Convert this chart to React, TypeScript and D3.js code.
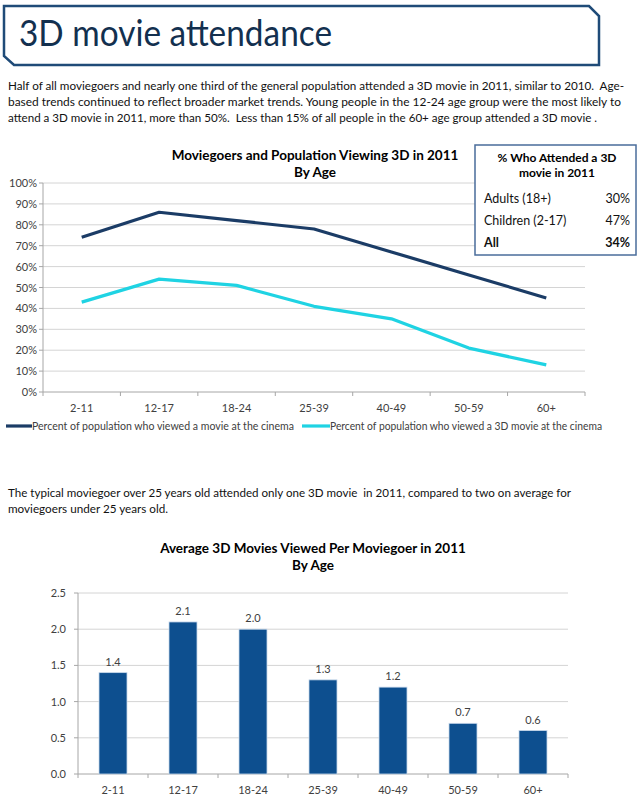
import React from 'react';
import * as d3 from 'd3';

const ages = ['2-11', '12-17', '18-24', '25-39', '40-49', '50-59', '60+'];
const viewedMovie = [74, 86, 82, 78, 67, 56, 45];
const viewed3D = [43, 54, 51, 41, 35, 21, 13];
const avg3D = [1.4, 2.1, 2.0, 1.3, 1.2, 0.7, 0.6];
const pctTicks = [0, 10, 20, 30, 40, 50, 60, 70, 80, 90, 100];
const barTicks = [0, 0.5, 1.0, 1.5, 2.0, 2.5];

const tableRows = [
  { label: 'Adults (18+)', value: '30%', bold: false },
  { label: 'Children (2-17)', value: '47%', bold: false },
  { label: 'All', value: '34%', bold: true },
];

const intro = [
  { text: 'Half of all moviegoers and nearly one third of the general population attended a 3D movie in 2011, similar to 2010.  Age-', w: 616 },
  { text: 'based trends continued to reflect broader market trends. Young people in the 12-24 age group were the most likely to', w: 613 },
  { text: 'attend a 3D movie in 2011, more than 50%.  Less than 15% of all people in the 60+ age group attended a 3D movie .', w: 589 },
];
const second = [
  { text: 'The typical moviegoer over 25 years old attended only one 3D movie  in 2011, compared to two on average for', w: 563 },
  { text: 'moviegoers under 25 years old.', w: 160 },
];

const FONT = 'Lato, "Open Sans", sans-serif';
const NAVY = '#1b3c66';
const CYAN = '#1fd3e3';
const BAR = '#0d4f8f';
const GRID = '#d4d4d4';
const AXIS = '#a6a6a6';
const TXT = '#404040';

function LineChart() {
  const left = 43, right = 585, top = 183, bottom = 392;
  const x = d3.scaleBand<string>().domain(ages).range([left, right]);
  const y = d3.scaleLinear().domain([0, 100]).range([bottom, top]);
  const line = d3.line<number>()
    .x((_, i) => (x(ages[i]) as number) + x.bandwidth() / 2)
    .y(d => y(d));

  return (
    <g fontFamily={FONT}>
      <text x={315} y={160} textAnchor="middle" fontSize={13.5} fontWeight="bold" fill="#000">
        Moviegoers and Population Viewing 3D in 2011
      </text>
      <text x={315} y={177} textAnchor="middle" fontSize={13.5} fontWeight="bold" fill="#000">By Age</text>

      {pctTicks.map(t => (
        <g key={t}>
          {t > 0 && <line x1={left} x2={right} y1={y(t)} y2={y(t)} stroke={GRID} strokeWidth={1} />}
          <line x1={left - 4} x2={left} y1={y(t)} y2={y(t)} stroke={AXIS} />
          <text x={left - 6} y={y(t) + 4} textAnchor="end" fontSize={11} fill={TXT}>{t}%</text>
        </g>
      ))}
      <line x1={left} x2={left} y1={top} y2={bottom} stroke={AXIS} />
      <line x1={left} x2={right} y1={bottom} y2={bottom} stroke={AXIS} />
      {ages.map((a, i) => (
        <g key={a}>
          <line x1={(x(a) as number) + x.bandwidth()} x2={(x(a) as number) + x.bandwidth()} y1={bottom} y2={bottom + 4} stroke={AXIS} />
          {i === 0 && <line x1={left} x2={left} y1={bottom} y2={bottom + 4} stroke={AXIS} />}
          <text x={(x(a) as number) + x.bandwidth() / 2} y={412} textAnchor="middle" fontSize={11} fill={TXT}>{a}</text>
        </g>
      ))}

      <path d={line(viewedMovie) as string} fill="none" stroke={NAVY} strokeWidth={3.2} strokeLinejoin="round" />
      <path d={line(viewed3D) as string} fill="none" stroke={CYAN} strokeWidth={3.2} strokeLinejoin="round" />

      <line x1={6} x2={32} y1={426} y2={426} stroke={NAVY} strokeWidth={3.2} />
      <text x={32} y={430} fontSize={11} fill={TXT} textLength={262} lengthAdjust="spacingAndGlyphs">
        Percent of population who viewed a movie at the cinema
      </text>
      <line x1={302} x2={330} y1={426} y2={426} stroke={CYAN} strokeWidth={3.2} />
      <text x={330} y={430} fontSize={11} fill={TXT} textLength={272} lengthAdjust="spacingAndGlyphs">
        Percent of population who viewed a 3D movie at the cinema
      </text>

      <rect x={475} y={145} width={161} height={110} fill="#fff" stroke="#4a6c9b" strokeWidth={1.5} />
      <text x={557} y={162} textAnchor="middle" fontSize={12} fontWeight="bold" fill="#000">% Who Attended a 3D</text>
      <text x={557} y={177} textAnchor="middle" fontSize={12} fontWeight="bold" fill="#000">movie in 2011</text>
      {tableRows.map((r, i) => (
        <g key={r.label} fontSize={12.5} fontWeight={r.bold ? 'bold' : 'normal'} fill="#111">
          <text x={484} y={203 + i * 22}>{r.label}</text>
          <text x={630} y={203 + i * 22} textAnchor="end">{r.value}</text>
        </g>
      ))}
    </g>
  );
}

function BarChart() {
  const left = 78, right = 568, top = 593, bottom = 774;
  const x = d3.scaleBand<string>().domain(ages).range([left, right]).paddingInner(0.6).paddingOuter(0.3);
  const xs = d3.scaleBand<string>().domain(ages).range([left, right]);
  const y = d3.scaleLinear().domain([0, 2.5]).range([bottom, top]);

  return (
    <g fontFamily={FONT}>
      <text x={313} y={553} textAnchor="middle" fontSize={13.5} fontWeight="bold" fill="#000">
        Average 3D Movies Viewed Per Moviegoer in 2011
      </text>
      <text x={313} y={570} textAnchor="middle" fontSize={13.5} fontWeight="bold" fill="#000">By Age</text>

      {barTicks.map(t => (
        <g key={t}>
          {t > 0 && <line x1={left} x2={right} y1={y(t)} y2={y(t)} stroke={GRID} />}
          <line x1={left - 4} x2={left} y1={y(t)} y2={y(t)} stroke={AXIS} />
          <text x={left - 12} y={y(t) + 4} textAnchor="end" fontSize={11} fill={TXT}>{t.toFixed(1)}</text>
        </g>
      ))}
      <line x1={left} x2={left} y1={top} y2={bottom} stroke={AXIS} />
      <line x1={left} x2={right} y1={bottom} y2={bottom} stroke={AXIS} />
      {ages.map((a, i) => (
        <g key={a}>
          <line x1={(xs(a) as number) + xs.bandwidth()} x2={(xs(a) as number) + xs.bandwidth()} y1={bottom} y2={bottom + 4} stroke={AXIS} />
          {i === 0 && <line x1={left} x2={left} y1={bottom} y2={bottom + 4} stroke={AXIS} />}
          <text x={(xs(a) as number) + xs.bandwidth() / 2} y={794} textAnchor="middle" fontSize={11} fill={TXT}>{a}</text>
          <rect x={x(a)} y={y(avg3D[i])} width={x.bandwidth()} height={bottom - y(avg3D[i])}
            fill={BAR} stroke="#c9d9ec" strokeWidth={0.8} />
          <text x={(x(a) as number) + x.bandwidth() / 2} y={y(avg3D[i]) - 7} textAnchor="middle" fontSize={11} fill={TXT}>
            {avg3D[i].toFixed(1)}
          </text>
        </g>
      ))}
    </g>
  );
}

export default function App() {
  return (
    <svg width={641} height={799} viewBox="0 0 641 799"
      style={{ position: 'absolute', left: 0, top: 0, background: '#fff' }}>
      <rect width={641} height={799} fill="#fff" />
      <path d="M4,6 L589,6 L599,16 L599,65 L14,65 L4,56 Z" fill="#fff" stroke="#1f4b78" strokeWidth={2.5} />
      <text x={19} y={46} fontFamily={FONT} fontSize={36} fill="#13304f" textLength={313} lengthAdjust="spacingAndGlyphs">
        3D movie attendance
      </text>

      {intro.map((l, i) => (
        <text key={i} x={8} y={90 + i * 16} fontFamily={FONT} fontSize={11.5} fill="#111"
          textLength={l.w} lengthAdjust="spacingAndGlyphs" style={{ whiteSpace: 'pre' }}>
          {l.text}
        </text>
      ))}

      <LineChart />

      {second.map((l, i) => (
        <text key={i} x={8} y={497 + i * 16} fontFamily={FONT} fontSize={11.5} fill="#111"
          textLength={l.w} lengthAdjust="spacingAndGlyphs" style={{ whiteSpace: 'pre' }}>
          {l.text}
        </text>
      ))}

      <BarChart />
    </svg>
  );
}
